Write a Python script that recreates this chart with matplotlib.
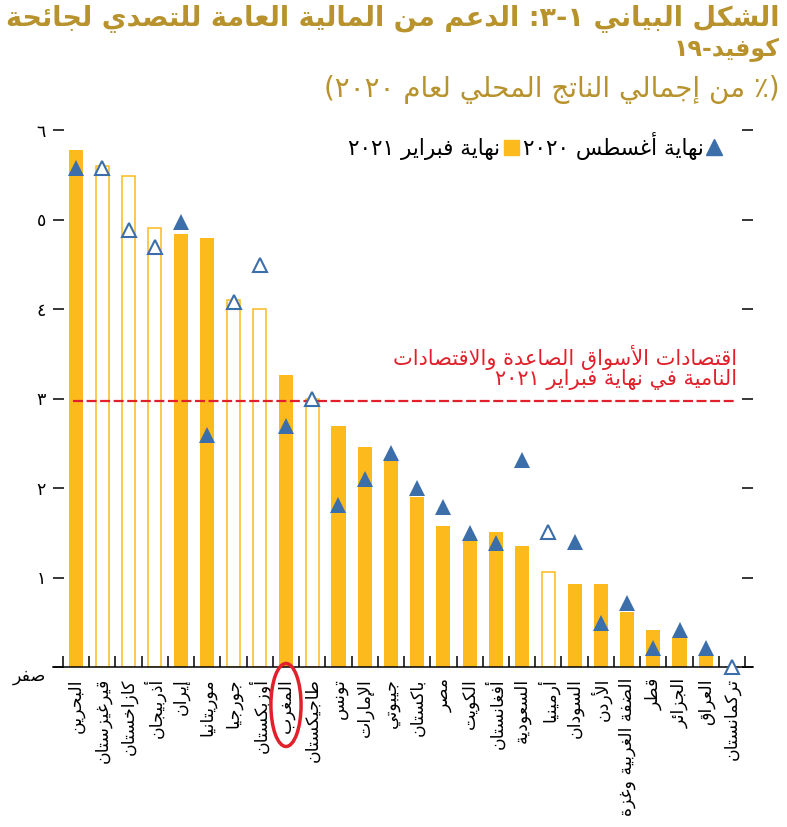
import re
import numpy as np
import matplotlib
matplotlib.use("Agg")
import matplotlib.pyplot as plt
import matplotlib.transforms as mtransforms
from matplotlib.patches import Ellipse, Patch
from matplotlib.lines import Line2D

# ---------------- data ----------------
countries = ['البحرين', 'قيرغيزستان', 'كازاخستان', 'أذربيجان', 'إيران', 'موريتانيا',
             'جورجيا', 'أوزبكستان', 'المغرب', 'طاجيكستان', 'تونس', 'الإمارات',
             'جيبوتي', 'باكستان', 'مصر', 'الكويت', 'أفغانستان', 'السعودية',
             'أرمينيا', 'السودان', 'الأردن', 'الضفة الغربية وغزة', 'قطر',
             'الجزائر', 'العراق', 'تركمانستان']
feb2021 = [5.78, 5.60, 5.49, 4.91, 4.84, 4.79, 4.10, 4.00, 3.26, 3.00, 2.69, 2.46,
           2.33, 1.90, 1.58, 1.41, 1.51, 1.35, 1.06, 0.93, 0.93, 0.61, 0.41, 0.33,
           0.12, 0.00]
aug2020 = [5.58, 5.58, 4.88, 4.69, 4.97, 2.59, 4.08, 4.49, 2.69, 2.99, 1.81, 2.10,
           2.39, 2.00, 1.79, 1.50, 1.39, 2.31, 1.51, 1.40, 0.49, 0.71, 0.21, 0.41,
           0.21, 0.00]
# True = Caucasus & Central Asia (hollow markers)
cca = [False, True, True, True, False, False, True, True, False, True, False, False,
       False, False, False, False, False, False, True, False, False, False, False,
       False, False, True]
emde_avg = 2.97
highlight = 'المغرب'
ytick_vals = [0, 1, 2, 3, 4, 5, 6]
ytick_labels = ['صفر', '١', '٢', '٣', '٤', '٥', '٦']

title_l1 = 'الشكل البياني ١-٣: الدعم من المالية العامة للتصدي لجائحة'
title_l2 = 'كوفيد-١٩'
subtitle = '(٪ من إجمالي الناتج المحلي لعام ٢٠٢٠)'
leg_feb = 'نهاية فبراير ٢٠٢١'
leg_aug = 'نهاية أغسطس ٢٠٢٠'
emde_label = 'اقتصادات الأسواق الصاعدة والاقتصادات\nالنامية في نهاية فبراير ٢٠٢١'

# ---------------- Arabic shaping (presentation forms) + visual order ----------------
_spec = ([(0x0621, 1), (0x0622, 2), (0x0623, 2), (0x0624, 2), (0x0625, 2), (0x0626, 4),
          (0x0627, 2), (0x0628, 4), (0x0629, 2)]
         + [(c, 4) for c in range(0x062A, 0x062F)]
         + [(0x062F, 2), (0x0630, 2), (0x0631, 2), (0x0632, 2)]
         + [(c, 4) for c in range(0x0633, 0x063B)]
         + [(c, 4) for c in range(0x0641, 0x0648)]
         + [(0x0648, 2), (0x0649, 2), (0x064A, 4)])
FORMS = {}
_code = 0xFE80
for _c, _n in _spec:
    FORMS[chr(_c)] = tuple(chr(_code + k) for k in range(_n))
    _code += _n
LAMALEF = {'\u0622': 0xFEF5, '\u0623': 0xFEF7, '\u0625': 0xFEF9, '\u0627': 0xFEFB}


def _jt(c):
    if c == '\u0640':
        return 4
    return len(FORMS.get(c, ()))


def _shape(s):
    res = []
    i, n = 0, len(s)
    while i < n:
        c = s[i]
        if c not in FORMS:
            res.append(c)
            i += 1
            continue
        prev = s[i - 1] if i > 0 else None
        jp = prev is not None and _jt(prev) == 4 and _jt(c) >= 2
        nxt = s[i + 1] if i + 1 < n else None
        if c == '\u0644' and nxt in LAMALEF:
            res.append(chr(LAMALEF[nxt] + (1 if jp else 0)))
            i += 2
            continue
        jn = _jt(c) == 4 and nxt is not None and _jt(nxt) >= 2
        f = FORMS[c]
        if jp and jn:
            res.append(f[3])
        elif jp:
            res.append(f[1])
        elif jn:
            res.append(f[2])
        else:
            res.append(f[0])
        i += 1
    return ''.join(res)


_mirror = {'(': ')', ')': '('}


def ar(s):
    lines = []
    for line in s.split('\n'):
        toks = re.findall(r'[0-9\u0660-\u0669]+|.', _shape(line))
        toks = [_mirror.get(t, t) for t in toks[::-1]]
        lines.append(''.join(toks))
    return '\n'.join(lines)


# ---------------- style ----------------
YELLOW = '#FDBA1C'
BLUE = '#3C6FAA'
RED = '#E2202B'
GOLD = '#B8922C'
plt.rcParams['font.family'] = ['DejaVu Sans']

W, H = 787, 827
fig = plt.figure(figsize=(W / 100, H / 100), dpi=100)
ax = fig.add_axes([53 / W, 1 - 667 / H, 700 / W, (667 - 130) / H])

x = np.arange(len(countries))
feb = np.array(feb2021)
aug = np.array(aug2020)
hol = np.array(cca)

ax.bar(x[~hol], feb[~hol], width=0.54, color=YELLOW, linewidth=0, zorder=2)
ax.bar(x[hol], feb[hol], width=0.50, facecolor='white', edgecolor=YELLOW,
       linewidth=1.1, zorder=2)

ax.hlines(emde_avg, -0.1, 25.1, colors=RED, linewidth=1.6,
          linestyles=[(0, (4.5, 1.6))], zorder=3)

ax.plot(x[~hol], aug[~hol], linestyle='none', marker='^', markersize=11,
        color=BLUE, markeredgewidth=0, zorder=4, clip_on=False)
ax.plot(x[hol], aug[hol], linestyle='none', marker='^', markersize=10,
        markerfacecolor='white', markeredgecolor=BLUE, markeredgewidth=1.5,
        zorder=4, clip_on=False)

ax.set_xlim(-0.88, 25.8)
ax.set_ylim(0, 6)
for sp in ['top', 'left', 'right']:
    ax.spines[sp].set_visible(False)
ax.spines['bottom'].set_linewidth(1.1)

ax.set_yticks(ytick_vals)
ax.set_yticklabels([ar(t) for t in ytick_labels], fontsize=12.5)
ax.tick_params(axis='y', which='major', left=True, right=True, direction='in',
               length=8, width=1.1, pad=5)
ax.get_yticklabels()[0].set_va('top')

ax.set_xticks(x)
ax.set_xticklabels([ar(c) for c in countries], rotation=90, fontsize=12.5)
ax.tick_params(axis='x', which='major', length=0, pad=8)
ax.set_xticks(np.arange(-0.5, len(countries), 1), minor=True)
ax.tick_params(axis='x', which='minor', bottom=True, direction='in', length=8,
               width=1.1)

ax.text(25.19, 3.35, ar(emde_label), ha='right', va='center', color=RED,
        fontsize=15, linespacing=0.95)

# highlight ellipse around Morocco's label
bt = mtransforms.blended_transform_factory(ax.transData, fig.transFigure)
ax.add_patch(Ellipse((countries.index(highlight), 1 - 705 / H), 1.15, 83 / H,
                     transform=bt, fill=False, edgecolor=RED, linewidth=2.5,
                     clip_on=False, zorder=6))

# legend (right-to-left)
handles = [Patch(facecolor=YELLOW, edgecolor=YELLOW),
           Line2D([], [], linestyle='none', marker='^', color=BLUE, markersize=11)]
fig.legend(handles, [ar(leg_feb), ar(leg_aug)], ncol=2, markerfirst=False,
           frameon=False, loc='center right', bbox_to_anchor=(722 / W, 1 - 146 / H),
           fontsize=15.5, handlelength=0.7, handleheight=0.7, handletextpad=0.15,
           columnspacing=0.2, borderpad=0, borderaxespad=0)

# titles
fig.text(780 / W, 1 - 19 / H, ar(title_l1), ha='right', va='center', color=GOLD,
         fontsize=19.5, fontweight='bold')
fig.text(780 / W, 1 - 50 / H, ar(title_l2), ha='right', va='center', color=GOLD,
         fontsize=17, fontweight='bold')
fig.text(780 / W, 1 - 89 / H, ar(subtitle), ha='right', va='center', color=GOLD,
         fontsize=20)

fig.savefig('out.png', dpi=100)
